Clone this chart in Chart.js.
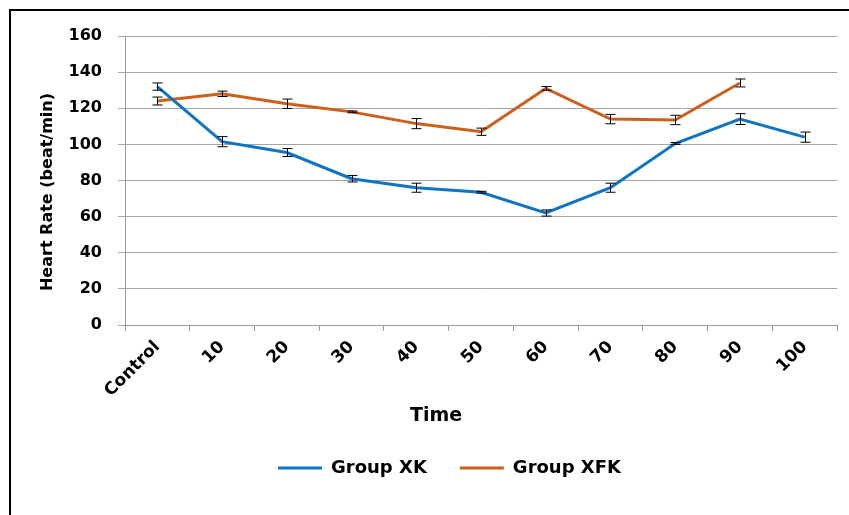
<!DOCTYPE html>
<html>
<head>
<meta charset="utf-8">
<script src="https://cdn.jsdelivr.net/npm/chart.js@4.4.1/dist/chart.umd.min.js"></script>
<style>
  html, body { margin: 0; padding: 0; background: #fff; overflow: hidden; }
  #clip { position: relative; width: 849px; height: 515px; overflow: hidden; }
  #frame { position: absolute; left: 9px; top: 9px; width: 1200px; height: 1000px; border-left: 2px solid #000; border-top: 2px solid #000; }
  #wrap { position: absolute; left: 0; top: 0; width: 962px; height: 515px; }
</style>
</head>
<body>
<div id="clip">
<div id="frame"></div>
<div id="wrap"><canvas id="hrChart"></canvas></div>
</div>
<script>
const categories = ["Control", "10", "20", "30", "40", "50", "60", "70", "80", "90", "100"];
const groupXK = [132, 101.5, 95.5, 81, 76, 73.5, 62, 76, 100.5, 114, 104];
const groupXKErr = [2, 2.8, 2.2, 1.8, 2.5, 0.5, 1.7, 2.5, 0.5, 3, 2.8];
const groupXFK = [124, 128, 122.5, 118, 111.5, 107, 131, 114, 113.5, 134, null];
const groupXFKErr = [2.2, 1.5, 2.6, 0.5, 2.8, 2, 1, 2.6, 2.6, 2.2, null];
const yTicks = [0, 20, 40, 60, 80, 100, 120, 140, 160];

const errors = [groupXKErr, groupXFKErr];
const boldFont = "DejaVu Sans";

// error bars + axis titles
const extrasPlugin = {
  id: "extras",
  afterDatasetsDraw(chart) {
    const ctx = chart.ctx;
    const yScale = chart.scales.y;
    ctx.save();
    ctx.strokeStyle = "#000";
    ctx.lineWidth = 1;
    chart.data.datasets.forEach((ds, i) => {
      const meta = chart.getDatasetMeta(i);
      meta.data.forEach((pt, j) => {
        const v = ds.data[j];
        const e = errors[i][j];
        if (v == null || e == null) return;
        const x = Math.round(pt.x) + 0.5;
        const yTop = yScale.getPixelForValue(v + e);
        const yBot = yScale.getPixelForValue(v - e);
        ctx.beginPath();
        ctx.moveTo(x, yTop); ctx.lineTo(x, yBot);
        ctx.moveTo(x - 5, yTop); ctx.lineTo(x + 5, yTop);
        ctx.moveTo(x - 5, yBot); ctx.lineTo(x + 5, yBot);
        ctx.stroke();
      });
    });
    ctx.restore();
  },
  afterDraw(chart) {
    const ctx = chart.ctx;
    ctx.save();
    ctx.fillStyle = "#000";
    ctx.textAlign = "center";
    ctx.textBaseline = "middle";
    ctx.font = "bold 19px '" + boldFont + "'";
    ctx.fillText("Time", 436, 416);
    ctx.translate(48, 192);
    ctx.rotate(-Math.PI / 2);
    ctx.font = "bold 16px '" + boldFont + "'";
    ctx.fillText("Heart Rate (beat/min)", 0, 0);
    ctx.restore();
  }
};

const ctx = document.getElementById("hrChart").getContext("2d");
new Chart(ctx, {
  type: "line",
  data: {
    labels: categories,
    datasets: [
      {
        label: "Group XK",
        data: groupXK,
        borderColor: "#0f74c4",
        backgroundColor: "#0f74c4",
        borderWidth: 3,
        pointRadius: 0,
        tension: 0
      },
      {
        label: "Group XFK",
        data: groupXFK,
        borderColor: "#cc5f1c",
        backgroundColor: "#cc5f1c",
        borderWidth: 3,
        pointRadius: 0,
        tension: 0
      }
    ]
  },
  options: {
    responsive: true,
    maintainAspectRatio: false,
    animation: false,
    layout: { padding: { top: 36, right: 125, bottom: 28, left: 62 } },
    plugins: {
      legend: {
        position: "bottom",
        labels: {
          color: "#000",
          font: { family: boldFont, size: 18, weight: "bold" },
          boxWidth: 44,
          boxHeight: 3,
          padding: 33,
          generateLabels(chart) {
            return chart.data.datasets.map((ds, i) => ({
              text: ds.label,
              fillStyle: ds.borderColor,
              strokeStyle: ds.borderColor,
              lineWidth: 0,
              datasetIndex: i
            }));
          }
        }
      },
      tooltip: { enabled: false }
    },
    scales: {
      x: {
        offset: true,
        grid: {
          offset: true,
          drawOnChartArea: false,
          drawTicks: true,
          tickLength: 6,
          color: "#9a9a9a"
        },
        border: { color: "#9a9a9a" },
        ticks: {
          color: "#000",
          font: { family: boldFont, size: 17, weight: "bold" },
          minRotation: 45,
          maxRotation: 45,
          padding: 6
        },
        afterFit(scale) { scale.height = 101; }
      },
      y: {
        min: 0,
        max: 160,
        afterBuildTicks(scale) { scale.ticks = yTicks.map(v => ({ value: v })); },
        grid: { color: "#a6a6a6", tickLength: 7 },
        border: { color: "#9a9a9a" },
        ticks: {
          color: "#000",
          font: { family: boldFont, size: 16, weight: "bold" },
          padding: 16
        },
        afterFit(scale) { scale.width = 63; }
      }
    }
  },
  plugins: [extrasPlugin]
});
</script>
</body>
</html>
